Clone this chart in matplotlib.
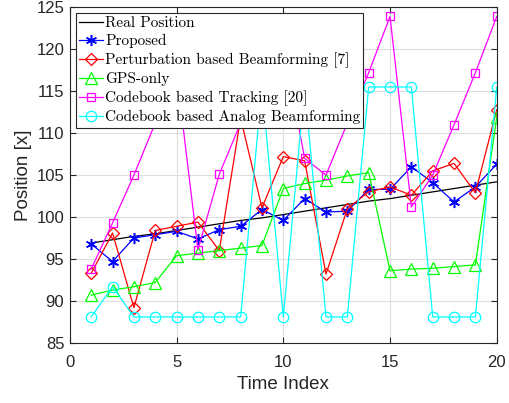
import matplotlib

matplotlib.use("Agg")
import matplotlib.pyplot as plt
import numpy as np

# --- position estimates per time step -----------------------------------------
time_index = np.arange(1, 21)

real_position = [96.9, 97.3, 97.7, 98.0, 98.4, 98.8, 99.2, 99.6, 99.9, 100.3,
                 100.7, 101.1, 101.5, 101.9, 102.2, 102.6, 103.0, 103.4, 103.8, 104.2]
proposed = [96.8, 94.7, 97.5, 97.9, 98.3, 97.4, 98.5, 98.9, 100.9, 99.6,
            102.2, 100.6, 100.7, 103.3, 103.3, 106.0, 104.1, 101.8, 103.6, 106.3]
perturbation = [93.3, 98.1, 89.2, 98.4, 98.9, 99.4, 96.0, 111.8, 101.1, 107.2,
                106.7, 93.2, 101.0, 103.0, 103.6, 102.6, 105.5, 106.4, 102.9, 112.8]
gps_only = [90.7, 91.3, 91.7, 92.2, 95.4, 95.7, 96.0, 96.3, 96.6, 103.4,
            104.0, 104.4, 104.9, 105.3, 93.6, 93.8, 93.9, 94.1, 94.3, 111.9]
codebook_tracking = [93.8, 99.3, 105.0, 111.2, 117.2, 96.1, 105.1, 111.2, 117.2, 120.5,
                     107.0, 105.0, 111.2, 117.2, 123.9, 101.2, 105.0, 111.0, 117.2, 123.9]
codebook_analog = [88.1, 91.7, 88.1, 88.1, 88.1, 88.1, 88.1, 88.1, 115.5, 88.1,
                   115.5, 88.1, 88.1, 115.5, 115.5, 115.5, 88.1, 88.1, 88.1, 115.5]

labels = ["Real Position", "Proposed", "Perturbation based Beamforming [7]",
          "GPS-only", "Codebook based Tracking [20]",
          "Codebook based Analog Beamforming"]

plt.rcParams["font.family"] = ["Liberation Sans", "DejaVu Sans"]

fig = plt.figure(figsize=(5.10, 4.03), dpi=100)
ax = fig.add_axes([0.137, 0.149, 0.837, 0.833])

lw = 0.9
asterisk = (6, 2, 0)
ax.plot(time_index, real_position, color="k", lw=lw, label=labels[0])
ax.plot(time_index, proposed, color="#0000ff", lw=lw, marker=asterisk, ms=8,
        mew=1.1, label=labels[1])
ax.plot(time_index, perturbation, color="#ff0000", lw=lw, marker="D", ms=6,
        mfc="none", mew=0.9, label=labels[2])
ax.plot(time_index, gps_only, color="#00ff00", lw=lw, marker="^", ms=8,
        mfc="none", mew=0.9, label=labels[3])
ax.plot(time_index, codebook_tracking, color="#ff00ff", lw=lw, marker="s", ms=5.5,
        mfc="none", mew=0.9, label=labels[4])
ax.plot(time_index, codebook_analog, color="#00ffff", lw=lw, marker="o", ms=7.5,
        mfc="none", mew=0.9, label=labels[5])

ax.set_xlim(0, 20)
ax.set_ylim(85, 125)
ax.set_xticks(np.arange(0, 21, 5))
ax.set_yticks(np.arange(85, 126, 5))
ax.grid(True, color="0.87", lw=0.8)
ax.set_axisbelow(True)
ax.tick_params(direction="in", top=True, right=True, labelsize=12,
               colors="0.15", length=4)
ax.tick_params(axis="x", pad=9)
ax.tick_params(axis="y", pad=4)
for sp in ax.spines.values():
    sp.set_color("0.15")
    sp.set_linewidth(0.8)
ax.set_xlabel("Time Index", fontsize=13.5, color="0.15", labelpad=4)
ax.set_ylabel("Position [x]", fontsize=13.5, color="0.15", labelpad=3)

leg = ax.legend(loc="upper left", prop={"family": "cmr10", "size": 11},
                frameon=True, fancybox=False, edgecolor="0.15", framealpha=1,
                borderaxespad=0.4, borderpad=0.2, labelspacing=0.27,
                handlelength=1.55, handletextpad=0.15)
leg.get_frame().set_linewidth(0.8)

fig.savefig("out.png", dpi=100)
